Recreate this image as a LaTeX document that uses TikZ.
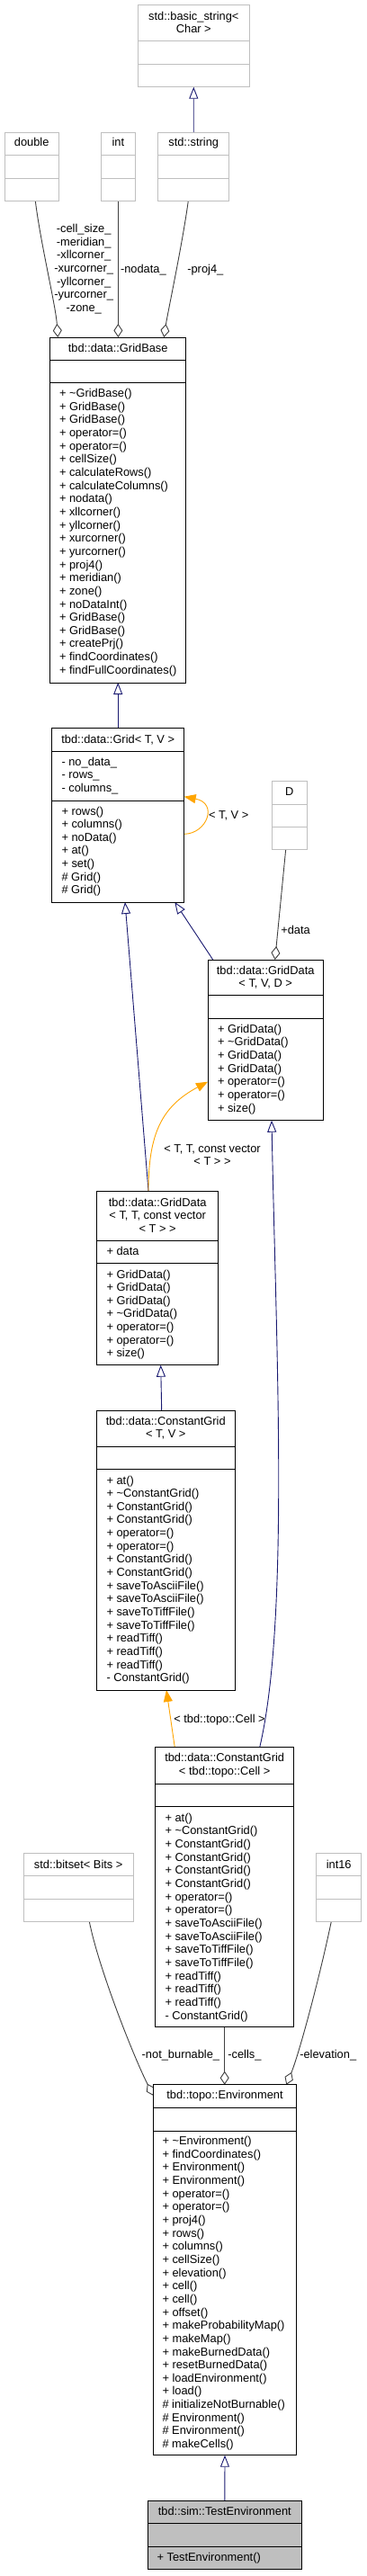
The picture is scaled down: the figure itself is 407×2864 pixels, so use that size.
\documentclass[tikz,border=0pt]{standalone}
\usepackage{fontspec}
\setmainfont{Liberation Sans}
\usetikzlibrary{arrows.meta}
\definecolor{navyc}{HTML}{191970}
\definecolor{aggc}{HTML}{404040}
\definecolor{orangec}{HTML}{FFA500}
\definecolor{extgrey}{HTML}{BFBFBF}
\definecolor{testfill}{HTML}{BFBFBF}
\pgfdeclarelayer{bgl}
\pgfdeclarelayer{edgel}
\pgfsetlayers{bgl,edgel,main}
\newcommand\umlcls[8]{%
  \node[#1, anchor=north west, minimum width={#5-#3}, minimum height={#6-#4}] (#2) at (#3,#4) {};
  \draw[#1line] (#3,#7) -- (#5,#7);
  \draw[#1line] (#3,#8) -- (#5,#8);}
\newcommand\ctr[1]{\parbox[t]{220pt}{\centering #1}}
\newcommand\lft[1]{\parbox[t]{220pt}{\raggedright #1}}
\tikzset{
  cls/.style={draw=black, fill=white, line width=0.9pt, inner sep=0, outer sep=0, rectangle},
  clsline/.style={draw=black, line width=0.9pt},
  ext/.style={draw=extgrey, fill=white, line width=0.9pt, inner sep=0, outer sep=0, rectangle},
  extline/.style={draw=extgrey, line width=0.9pt},
  tst/.style={draw=black, fill=testfill, line width=0.9pt, inner sep=0, outer sep=0, rectangle},
  tstline/.style={draw=black, line width=0.9pt},
  txt/.style={inner sep=0, outer sep=0},
  inh/.style={draw=navyc, line width=0.9pt, -{Triangle[fill=white, length=13pt, width=10pt]}},
  agg/.style={draw=aggc, line width=0.9pt, -{Diamond[fill=white, length=15pt, width=10pt]}},
  tpl/.style={draw=orangec, line width=0.9pt, -{Triangle[fill=orangec, length=13pt, width=10pt]}},
}
\begin{document}
\begin{tikzpicture}[x=1pt, y=-1pt, font=\fontsize{12.85}{14.65}\selectfont]
\useasboundingbox (0,0) rectangle (407,2864);
\begin{pgfonlayer}{bgl}
  \fill[white] (0,0) rectangle (407,2864);
\end{pgfonlayer}

% ---------- classes ----------
\umlcls{ext}{bstr}{153.3}{5.7}{277.3}{96.7}{45.7}{71}
\node[txt, anchor=base] (bstr-t) at (215.3,22) {\ctr{std::basic\_string<\\Char >}};

\umlcls{ext}{dbl}{5}{147}{65.3}{223.3}{172.3}{198}
\node[txt, anchor=base] (dbl-t) at (35.2,162.6) {double};

\umlcls{ext}{intb}{112}{147}{150.7}{223.3}{172.3}{198}
\node[txt, anchor=base] (intb-t) at (131.3,162.6) {int};

\umlcls{ext}{str}{175.7}{147}{254.7}{223.3}{172.3}{198}
\node[txt, anchor=base] (str-t) at (215.2,162.6) {std::string};

\umlcls{cls}{gridbase}{55.7}{375}{206.7}{759}{400.3}{425.7}
\node[txt, anchor=base] (gridbase-t) at (131.2,391) {tbd::data::GridBase};
\node[txt, anchor=base west] (gridbase-m) at (66,441.6) {\lft{+ \textasciitilde GridBase()\\+ GridBase()\\+ GridBase()\\+ operator=()\\+ operator=()\\+ cellSize()\\+ calculateRows()\\+ calculateColumns()\\+ nodata()\\+ xllcorner()\\+ yllcorner()\\+ xurcorner()\\+ yurcorner()\\+ proj4()\\+ meridian()\\+ zone()\\+ noDataInt()\\+ GridBase()\\+ GridBase()\\+ createPrj()\\+ findCoordinates()\\+ findFullCoordinates()}};

\umlcls{cls}{grid}{57.7}{809.3}{204.7}{1003}{835}{890}
\node[txt, anchor=base] (grid-t) at (131.2,826) {tbd::data::Grid< T, V >};
\node[txt, anchor=base west] (grid-a) at (68.5,851) {\lft{- no\_data\_\\- rows\_\\- columns\_}};
\node[txt, anchor=base west] (grid-m) at (68.5,906) {\lft{+ rows()\\+ columns()\\+ noData()\\+ at()\\+ set()\\\# Grid()\\\# Grid()}};

\umlcls{ext}{D}{302.3}{868.7}{341.3}{944.3}{894.7}{919.3}
\node[txt, anchor=base] (D-t) at (321.8,884.6) {D};

\umlcls{cls}{gdTVD}{231}{1067}{359.3}{1245.7}{1106.7}{1132.7}
\node[txt, anchor=base] (gdTVD-t) at (295.2,1083) {\ctr{tbd::data::GridData\\< T, V, D >}};
\node[txt, anchor=base west] (gdTVD-m) at (242,1148.3) {\lft{+ GridData()\\+ \textasciitilde GridData()\\+ GridData()\\+ GridData()\\+ operator=()\\+ operator=()\\+ size()}};

\umlcls{cls}{gdTT}{107.7}{1324}{242.7}{1517.7}{1379.3}{1404.7}
\node[txt, anchor=base] (gdTT-t) at (175.2,1341) {\ctr{tbd::data::GridData\\< T, T, const vector\\< T > >}};
\node[txt, anchor=base west] (gdTT-a) at (118.5,1395) {+ data};
\node[txt, anchor=base west] (gdTT-m) at (118.5,1421) {\lft{+ GridData()\\+ GridData()\\+ GridData()\\+ \textasciitilde GridData()\\+ operator=()\\+ operator=()\\+ size()}};

\umlcls{cls}{cgTV}{107.7}{1568.3}{261}{1879}{1608.7}{1633.7}
\node[txt, anchor=base] (cgTV-t) at (184.3,1584.3) {\ctr{tbd::data::ConstantGrid\\< T, V >}};
\node[txt, anchor=base west] (cgTV-m) at (118.5,1650) {\lft{+ at()\\+ \textasciitilde ConstantGrid()\\+ ConstantGrid()\\+ ConstantGrid()\\+ operator=()\\+ operator=()\\+ ConstantGrid()\\+ ConstantGrid()\\+ saveToAsciiFile()\\+ saveToAsciiFile()\\+ saveToTiffFile()\\+ saveToTiffFile()\\+ readTiff()\\+ readTiff()\\+ readTiff()\\- ConstantGrid()}};

\umlcls{cls}{cgCell}{172.7}{1942.7}{326.7}{2253.7}{1983.3}{2008.7}
\node[txt, anchor=base] (cgCell-t) at (249.7,1958.6) {\ctr{tbd::data::ConstantGrid\\< tbd::topo::Cell >}};
\node[txt, anchor=base west] (cgCell-m) at (183.5,2025.3) {\lft{+ at()\\+ \textasciitilde ConstantGrid()\\+ ConstantGrid()\\+ ConstantGrid()\\+ ConstantGrid()\\+ ConstantGrid()\\+ operator=()\\+ operator=()\\+ saveToAsciiFile()\\+ saveToAsciiFile()\\+ saveToTiffFile()\\+ saveToTiffFile()\\+ readTiff()\\+ readTiff()\\+ readTiff()\\- ConstantGrid()}};

\umlcls{ext}{bitset}{26}{2060.3}{148.3}{2136.3}{2085.7}{2111.3}
\node[txt, anchor=base] (bitset-t) at (87.2,2077) {std::bitset< Bits >};

\umlcls{ext}{int16}{351.7}{2060.3}{401.7}{2136.3}{2085.7}{2111.3}
\node[txt, anchor=base] (int16-t) at (376.7,2077) {int16};

\umlcls{cls}{env}{170.7}{2317.7}{329.3}{2729.7}{2343.3}{2369.3}
\node[txt, anchor=base] (env-t) at (250,2333.6) {tbd::topo::Environment};
\node[txt, anchor=base west] (env-m) at (180.5,2384.6) {\lft{+ \textasciitilde Environment()\\+ findCoordinates()\\+ Environment()\\+ Environment()\\+ operator=()\\+ operator=()\\+ proj4()\\+ rows()\\+ columns()\\+ cellSize()\\+ elevation()\\+ cell()\\+ cell()\\+ offset()\\+ makeProbabilityMap()\\+ makeMap()\\+ makeBurnedData()\\+ resetBurnedData()\\+ loadEnvironment()\\+ load()\\\# initializeNotBurnable()\\\# Environment()\\\# Environment()\\\# makeCells()}};

\umlcls{tst}{test}{164.7}{2780.7}{335}{2856.7}{2805.7}{2831}
\node[txt, anchor=base] (test-t) at (249.8,2796.6) {tbd::sim::TestEnvironment};
\node[txt, anchor=base west] (test-m) at (174.5,2847) {+ TestEnvironment()};

% ---------- connectors ----------
\begin{pgfonlayer}{edgel}
% inheritance
\draw[inh] (str.north) -- (bstr.south);
\draw[inh] (grid.north) -- (gridbase.south);
\draw[inh] ([xshift=5.7pt]gdTVD.north west) -- ([xshift=136.6pt]grid.south west);
\draw[inh] ([xshift=57.3pt]gdTT.north west) -- ([xshift=81.3pt]grid.south west);
\draw[inh] ([xshift=72pt]cgTV.north west) -- ([xshift=71pt]gdTT.south west);
\draw[inh] ([xshift=116pt]cgCell.north west) .. controls (322,1800) and (307,1500) .. ([xshift=71pt]gdTVD.south west);
\draw[inh] (test.north) -- (env.south);
% aggregation
\draw[agg] ([xshift=34.3pt]dbl.south west) .. controls (45,270) and (62,340) .. ([xshift=8.6pt]gridbase.north west);
\draw[agg] (intb.south) -- (intb.south |- gridbase.north);
\draw[agg] ([xshift=33.6pt]str.south west) .. controls (203,270) and (186,350) .. ([xshift=126.6pt]gridbase.north west);
\draw[agg] ([xshift=15.4pt]D.south west) -- ([xshift=74.7pt]gdTVD.north west);
\draw[agg] ([xshift=73.3pt]bitset.south west) .. controls (110,2190) and (150,2290) .. ([yshift=-12.3pt]env.north west);
\draw[agg] (cgCell.south) -- (cgCell.south |- env.north);
\draw[agg] ([xshift=16.6pt]int16.south west) .. controls (355,2200) and (332,2285) .. ([xshift=147.6pt]env.north west);
% template instantiation
\draw[tpl] ([yshift=-118pt]grid.north east) .. controls (230,927) and (243,893) .. ([yshift=-76.4pt]grid.north east);
\draw[tpl] ([xshift=57.3pt]gdTT.north west) .. controls (165,1260) and (180,1230) .. ([yshift=-135.7pt]gdTVD.north west);
\draw[tpl] ([xshift=21.6pt]cgCell.north west) -- ([xshift=77.3pt]cgTV.south west);
\end{pgfonlayer}

% ---------- connector labels ----------
\node[txt, anchor=base] (l-dbl) at (93.2,258.6) {\ctr{-cell\_size\_\\-meridian\_\\-xllcorner\_\\-xurcorner\_\\-yllcorner\_\\-yurcorner\_\\-zone\_}};
\node[txt, anchor=base west] (l-int) at (134,303.3) {-nodata\_};
\node[txt, anchor=base west] (l-str) at (208.3,303.3) {-proj4\_};
\node[txt, anchor=base west] (l-loop) at (232,910.3) {< T, V >};
\node[txt, anchor=base west] (l-D) at (312.3,1038.6) {+data};
\node[txt, anchor=base] (l-gdTT) at (236,1281) {\ctr{< T, T, const vector\\< T > >}};
\node[txt, anchor=base west] (l-cell) at (193.3,1915.3) {< tbd::topo::Cell >};
\node[txt, anchor=base west] (l-bitset) at (157.7,2288.3) {-not\_burnable\_};
\node[txt, anchor=base west] (l-cells) at (253.3,2288.3) {-cells\_};
\node[txt, anchor=base west] (l-elev) at (333.3,2288.3) {-elevation\_};
\end{tikzpicture}
\end{document}
